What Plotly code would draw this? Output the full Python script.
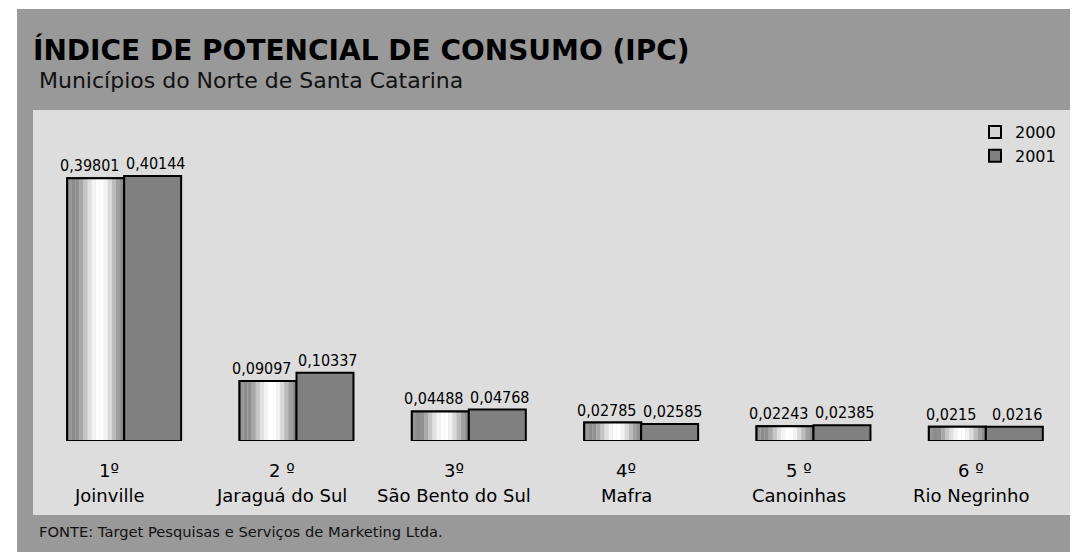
import plotly.graph_objects as go

# ---- data ----
cities = ["Joinville", "Jaraguá do Sul", "São Bento do Sul", "Mafra", "Canoinhas", "Rio Negrinho"]
ranks = ["1º", "2 º", "3º", "4º", "5 º", "6 º"]
ipc_2000 = [0.39801, 0.09097, 0.04488, 0.02785, 0.02243, 0.0215]
ipc_2001 = [0.40144, 0.10337, 0.04768, 0.02585, 0.02385, 0.0216]
series_names = ["2000", "2001"]

title = "ÍNDICE DE POTENCIAL DE CONSUMO (IPC)"
subtitle = "Municípios do Norte de Santa Catarina"
source = "FONTE: Target Pesquisas e Serviços de Marketing Ltda."

# ---- style ----
FONT = "DejaVu Sans"
LABEL_FONT = "DejaVu Sans Condensed, DejaVu Sans"
W, H = 1078, 552
OFF = 8  # page body margin
ML, MR, MT, MB = 38 - OFF, 6 + OFF, 144 - OFF, 111 + OFF
BAR_W = 0.3306
GRAD = ['#959595', '#8c8c8c', '#909090', '#a8a8a8', '#c6c6c6', '#e0e0e0', '#f3f3f3',
        '#ffffff', '#ffffff', '#f2f2f2', '#dadada', '#bcbcbc', '#a0a0a0', '#8c8c8c']

PW, PH = W - ML - MR, H - MT - MB
CAT_PX = PW / 6.0


def px(xp):
    return (xp - OFF - ML) / PW


def py(yp):
    return (H - MB - (yp - OFF)) / PH


def fmt(v):
    return str(v).replace(".", ",")


fig = go.Figure()

# legend / base trace for 2000
fig.add_trace(go.Bar(
    x=cities, y=ipc_2000, name=series_names[0], width=BAR_W, offset=-BAR_W,
    marker=dict(color="#d4d4d4", line=dict(color="black", width=2)),
    hoverinfo="skip",
))
# gradient strips
n = len(GRAD)
for i, c in enumerate(GRAD):
    fig.add_trace(go.Bar(
        x=cities, y=ipc_2000, width=BAR_W / n, offset=-BAR_W + i * BAR_W / n,
        marker=dict(color=c, line=dict(width=0)), showlegend=False, hoverinfo="skip",
    ))
# outline for 2000
fig.add_trace(go.Bar(
    x=cities, y=ipc_2000, width=BAR_W, offset=-BAR_W, showlegend=False,
    marker=dict(color="rgba(0,0,0,0)", line=dict(color="black", width=2)),
    hoverinfo="skip",
))
# 2001
fig.add_trace(go.Bar(
    x=cities, y=ipc_2001, name=series_names[1], width=BAR_W, offset=0,
    marker=dict(color="#808080", line=dict(color="black", width=2)),
    hoverinfo="skip",
))

annotations = [
    dict(text=f"<b>{title}</b>", x=px(31), y=py(50), xref="paper", yref="paper",
         xanchor="left", yanchor="middle", showarrow=False,
         font=dict(family=FONT, size=28, color="black")),
    dict(text=subtitle, x=px(37), y=py(80), xref="paper", yref="paper",
         xanchor="left", yanchor="middle", showarrow=False,
         font=dict(family=FONT, size=22, color="#111111")),
    dict(text=source, x=px(37), y=py(531), xref="paper", yref="paper",
         xanchor="left", yanchor="middle", showarrow=False,
         font=dict(family=FONT, size=14.7, color="#111111")),
]
# value labels above bars
half = BAR_W / 2 * CAT_PX
for c, v0, v1 in zip(cities, ipc_2000, ipc_2001):
    annotations.append(dict(text=fmt(v0), x=c, y=v0, xref="x", yref="y",
                            xshift=-half - 6, yshift=1, xanchor="center", yanchor="bottom",
                            showarrow=False, font=dict(family=LABEL_FONT, size=16, color="black")))
    annotations.append(dict(text=fmt(v1), x=c, y=v1, xref="x", yref="y",
                            xshift=half + 3, yshift=1, xanchor="center", yanchor="bottom",
                            showarrow=False, font=dict(family=LABEL_FONT, size=16, color="black")))
for r, c in zip(ranks, cities):
    annotations.append(dict(text=r, x=c, y=py(470), xref="x", yref="paper", xshift=-15,
                            xanchor="center", yanchor="middle", showarrow=False,
                            font=dict(family=FONT, size=18, color="black")))
    annotations.append(dict(text=c, x=c, y=py(495), xref="x", yref="paper", xshift=-15,
                            xanchor="center", yanchor="middle", showarrow=False,
                            font=dict(family=FONT, size=18, color="black")))

shapes = [
    dict(type="rect", xref="paper", yref="paper", x0=px(17), x1=px(W + 20), y0=py(9), y1=py(H + 20),
         fillcolor="#999999", line=dict(width=0), layer="below"),
    dict(type="rect", xref="paper", yref="paper", x0=px(33), x1=px(1075), y0=py(110), y1=py(515),
         fillcolor="#dddddd", line=dict(width=0), layer="below"),
]

fig.update_layout(
    width=W, height=H,
    margin=dict(l=ML, r=MR, t=MT, b=MB),
    paper_bgcolor="white", plot_bgcolor="rgba(0,0,0,0)",
    barmode="overlay",
    font=dict(family=FONT, color="black"),
    xaxis=dict(type="category", range=[-0.5, 5.5], showticklabels=False, showgrid=False,
               zeroline=False, showline=False, ticks=""),
    yaxis=dict(range=[0, 0.45], visible=False, showgrid=False, zeroline=False),
    legend=dict(x=px(975), y=py(115), xanchor="left", yanchor="top",
                bgcolor="rgba(0,0,0,0)", font=dict(family=FONT, size=16, color="black"),
                tracegroupgap=0, itemsizing="constant"),
    annotations=annotations, shapes=shapes,
    hovermode=False,
)

fig.write_html("out.html")
